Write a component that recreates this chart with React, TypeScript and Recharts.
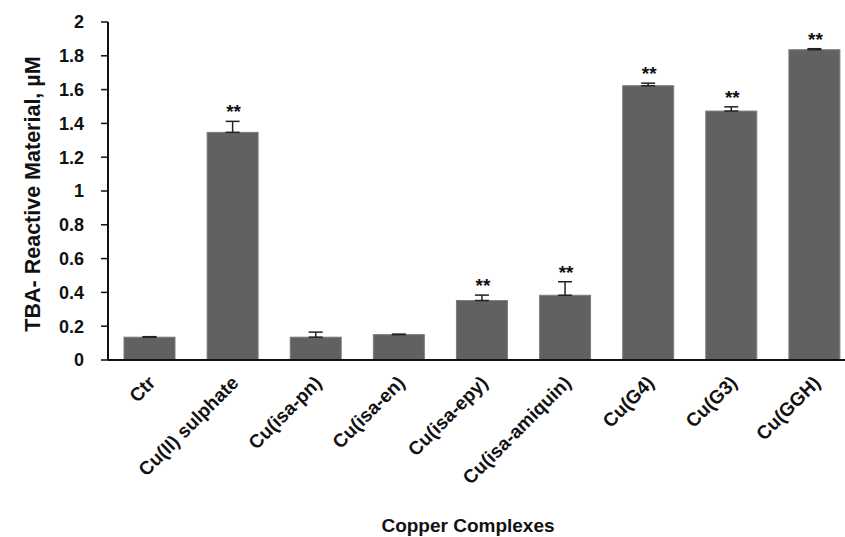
import React from 'react';
import { BarChart, Bar, XAxis, YAxis, ErrorBar, Label } from 'recharts';

const categories = [
  'Ctr',
  'Cu(II) sulphate',
  'Cu(isa-pn)',
  'Cu(isa-en)',
  'Cu(isa-epy)',
  'Cu(isa-amiquin)',
  'Cu(G4)',
  'Cu(G3)',
  'Cu(GGH)',
];
const tbaValues = [0.135, 1.347, 0.135, 0.15, 0.352, 0.383, 1.623, 1.473, 1.836];
const tbaErrors = [0.003, 0.065, 0.03, 0.003, 0.032, 0.08, 0.015, 0.025, 0.006];
const significant = [false, true, false, false, true, true, true, true, true];
const yTicks = [0, 0.2, 0.4, 0.6, 0.8, 1, 1.2, 1.4, 1.6, 1.8, 2];

const FONT = '"Liberation Sans", Arial, Helvetica, sans-serif';

const chartData = categories.map((name, i) => ({
  name,
  value: tbaValues[i],
  err: [0, tbaErrors[i]],
  errUp: tbaErrors[i],
  sig: significant[i],
}));

const BarWithStars = (props: any) => {
  const { x, y, width, height, payload } = props;
  const pxPerUnit = payload.value ? height / payload.value : 0;
  const errTop = y - payload.errUp * pxPerUnit;
  return (
    <g>
      <rect x={x} y={y} width={width} height={height} fill="#616161" stroke="#7d7d7d" strokeWidth={1} />
      {payload.sig && (
        <text
          x={x + width / 2 + 1}
          y={errTop - 3}
          textAnchor="middle"
          fontFamily={FONT}
          fontWeight="bold"
          fontSize={19}
          fill="#111"
        >
          **
        </text>
      )}
    </g>
  );
};

const XTick = (props: any) => {
  const { x, y, payload } = props;
  return (
    <g transform={`translate(${x + 7},${y + 16})`}>
      <text
        textAnchor="end"
        transform="rotate(-45)"
        fontFamily={FONT}
        fontWeight="bold"
        fontSize={19}
        fill="#111"
      >
        {payload.value}
      </text>
    </g>
  );
};

export default function App() {
  return (
    <div style={{ position: 'absolute', left: 0, top: 0, width: 845, height: 537, overflow: 'hidden', background: '#fff' }}>
      <BarChart
        width={870}
        height={537}
        data={chartData}
        margin={{ top: 22, right: 14, bottom: 0, left: 0 }}
      >
        <XAxis
          dataKey="name"
          height={177}
          interval={0}
          tickLine={false}
          axisLine={{ stroke: '#111', strokeWidth: 2 }}
          tick={<XTick />}
        >
          <Label
            content={() => (
              <text x={468} y={532} textAnchor="middle" fontFamily={FONT} fontWeight="bold" fontSize={19} fill="#111">
                Copper Complexes
              </text>
            )}
          />
        </XAxis>
        <YAxis
          width={108}
          domain={[0, 2]}
          ticks={yTicks}
          interval={0}
          tickSize={7}
          tickMargin={17}
          axisLine={{ stroke: '#111', strokeWidth: 2 }}
          tickLine={{ stroke: '#111', strokeWidth: 1.5 }}
          tick={{ fontFamily: FONT, fontWeight: 'bold', fontSize: 18, fill: '#111' }}
        >
          <Label
            content={() => (
              <text
                x={0}
                y={0}
                transform="translate(40,194) rotate(-90)"
                textAnchor="middle"
                fontFamily={FONT}
                fontWeight="bold"
                fontSize={21.5}
                fill="#111"
              >
                TBA- Reactive Material, µM
              </text>
            )}
          />
        </YAxis>
        <Bar dataKey="value" barSize={51} isAnimationActive={false} shape={<BarWithStars />}>
          <ErrorBar dataKey="err" width={7} stroke="#222" strokeWidth={1.5} direction="y" />
        </Bar>
      </BarChart>
    </div>
  );
}
